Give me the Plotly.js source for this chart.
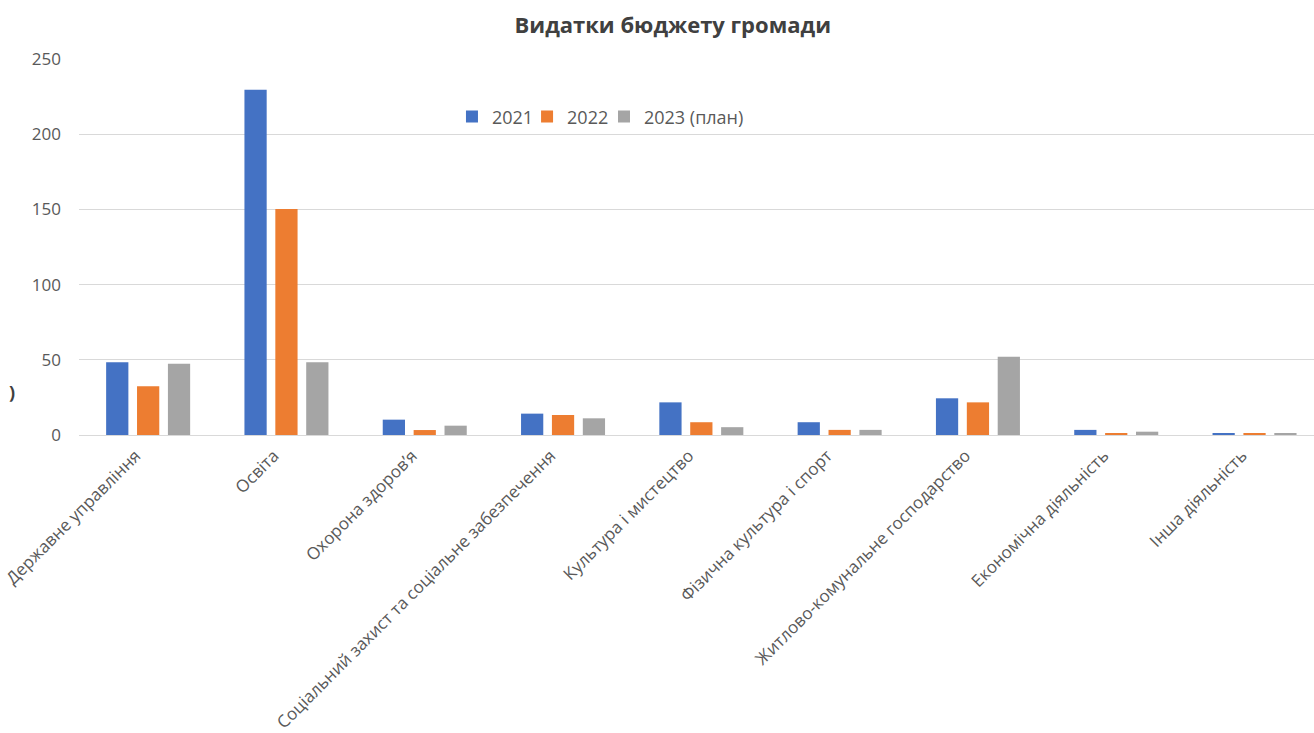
<!DOCTYPE html>
<html>
<head>
<meta charset="utf-8">
<script src="https://cdn.plot.ly/plotly-3.0.1.min.js"></script>
<style>html,body{margin:0;padding:0;background:#fff;overflow:hidden}#chart{width:1314px;height:733px}</style>
</head>
<body>
<div id="chart"></div>
<script>
const categories = [
  "Державне управління",
  "Освіта",
  "Охорона здоров’я",
  "Соціальний захист та соціальне забезпечення",
  "Культура і мистецтво",
  "Фізична культура і спорт",
  "Житлово-комунальне господарство",
  "Економічна діяльність",
  "Інша діяльність"
];
const seriesNames = ["2021", "2022", "2023 (план)"];
const values2021 = [48.4, 229.5, 10.2, 14.2, 21.7, 8.5, 24.4, 3.4, 1.1];
const values2022 = [32.4, 150.3, 3.3, 13.3, 8.5, 3.4, 21.7, 1.1, 1.1];
const values2023 = [47.3, 48.3, 6.2, 11.1, 5.2, 3.4, 52.0, 2.2, 1.1];
const yTicks = [0, 50, 100, 150, 200, 250];
const colors = ["#4472C4", "#ED7D31", "#A5A5A5"];
const seriesValues = [values2021, values2022, values2023];

const FONT = "'Open Sans', 'Noto Sans', sans-serif";
const legendIds = ["legend", "legend2", "legend3"];
const legendX = [0.302, 0.3628, 0.4251];

const traces = seriesValues.map((vals, i) => ({
  type: "bar",
  name: seriesNames[i],
  x: categories,
  y: vals,
  marker: {color: colors[i]},
  legend: legendIds[i],
  hoverinfo: "x+y+name"
}));

const layout = {
  width: 1314,
  height: 733,
  margin: {l: 79, r: 0, t: 59, b: 298},
  paper_bgcolor: "#ffffff",
  plot_bgcolor: "#ffffff",
  font: {family: FONT, color: "#595959", size: 14},
  title: {
    text: "<b>Видатки бюджету громади</b>",
    font: {family: FONT, size: 22, color: "#404040"},
    x: 0.512, xanchor: "center",
    y: 0.965, yanchor: "middle"
  },
  barmode: "group",
  bargap: 0.33,
  bargroupgap: 0.28,
  showlegend: true,
  xaxis: {
    type: "category",
    range: [-0.5, 8.43],
    tickangle: -45,
    tickvals: categories,
    ticktext: categories.map(c => c + "\u00A0\u00A0\u00A0\u00A0"),
    showgrid: false,
    showline: false,
    ticks: "",
    ticklabelstandoff: -6,
    tickfont: {family: FONT, size: 17, color: "#595959"},
    automargin: false
  },
  yaxis: {
    range: [0, 250],
    tickvals: yTicks,
    ticktext: yTicks.map(String),
    showgrid: true,
    gridcolor: "#d9d9d9",
    gridwidth: 1,
    zeroline: true,
    zerolinecolor: "#d9d9d9",
    zerolinewidth: 1,
    showline: false,
    ticks: "",
    ticklabelstandoff: 17,
    tickfont: {family: FONT, size: 17, color: "#595959"},
    automargin: false
  },
  annotations: [{
    text: "<b>)</b>",
    xref: "paper", yref: "paper",
    x: -0.054, y: 0.115,
    xanchor: "center", yanchor: "middle",
    showarrow: false,
    font: {family: FONT, size: 18, color: "#404040"}
  }]
};

legendIds.forEach((id, i) => {
  layout[id] = {
    orientation: "h",
    x: legendX[i], xanchor: "left",
    y: 0.846, yanchor: "middle",
    font: {family: FONT, size: 18, color: "#595959"},
    bgcolor: "rgba(0,0,0,0)",
    itemwidth: 30
  };
});

Plotly.newPlot("chart", traces, layout, {displayModeBar: false, responsive: false});
</script>
</body>
</html>
